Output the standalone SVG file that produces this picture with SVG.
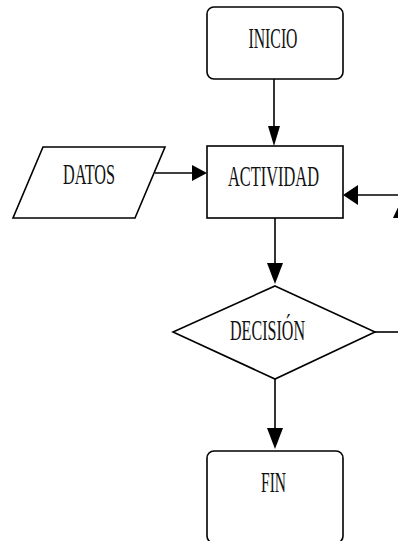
<svg xmlns="http://www.w3.org/2000/svg" width="398" height="541" viewBox="0 0 398 541">
  <defs>
    <style>
      .shape { fill: #ffffff; stroke: #000000; stroke-width: 1.6; }
      .lbl { font-family: "Liberation Serif", "Times New Roman", serif; font-size: 29px; fill: #111111; text-anchor: middle; }
      .wire { fill: none; stroke: #000000; stroke-width: 1.6; }
      .head { fill: #000000; stroke: none; }
    </style>
  </defs>
  <rect width="398" height="541" fill="#ffffff"/>

  <!-- connectors -->
  <g id="connectors">
    <!-- INICIO to ACTIVIDAD -->
    <line class="wire" x1="274" y1="79" x2="274" y2="130"/>
    <polygon class="head" points="268,126 280,126 274,146"/>
    <!-- DATOS to ACTIVIDAD -->
    <line class="wire" x1="155" y1="173" x2="195" y2="173"/>
    <polygon class="head" points="192,165 192,181 207,173"/>
    <!-- ACTIVIDAD to DECISION -->
    <line class="wire" x1="275" y1="218" x2="275" y2="266"/>
    <polygon class="head" points="267,263 283,263 275,284"/>
    <!-- DECISION to FIN -->
    <line class="wire" x1="275" y1="379" x2="275" y2="432"/>
    <polygon class="head" points="267,428 283,428 275,449"/>
    <!-- loop back into ACTIVIDAD from the right -->
    <line class="wire" x1="355" y1="195" x2="398" y2="195"/>
    <polygon class="head" points="343,195 358,185 358,205"/>
    <!-- DECISION exit to the right -->
    <line class="wire" x1="375" y1="332" x2="398" y2="332"/>
    <!-- arrowhead on the far-right return line -->
    <polygon class="head" points="399,205 393,218 405,218"/>
  </g>

  <g id="inicio">
    <rect class="shape" x="207" y="7" width="136" height="72" rx="7" ry="7"/>
    <text class="lbl" x="273" y="48" textLength="49" lengthAdjust="spacingAndGlyphs">INICIO</text>
  </g>

  <g id="datos">
    <polygon class="shape" points="43,147 165,147 135,218 13,218"/>
    <text class="lbl" x="89" y="184" textLength="52" lengthAdjust="spacingAndGlyphs">DATOS</text>
  </g>

  <g id="actividad">
    <rect class="shape" x="207" y="146" width="136" height="72"/>
    <text class="lbl" x="273.5" y="186" textLength="91" lengthAdjust="spacingAndGlyphs">ACTIVIDAD</text>
  </g>

  <g id="decision">
    <polygon class="shape" points="275,286 375,332 275,379 173,332"/>
    <text class="lbl" x="267.5" y="340" textLength="75" lengthAdjust="spacingAndGlyphs">DECISIÓN</text>
  </g>

  <g id="fin">
    <rect class="shape" x="207" y="451" width="136" height="92" rx="7" ry="7"/>
    <text class="lbl" x="273.5" y="492" textLength="25" lengthAdjust="spacingAndGlyphs">FIN</text>
  </g>
</svg>
